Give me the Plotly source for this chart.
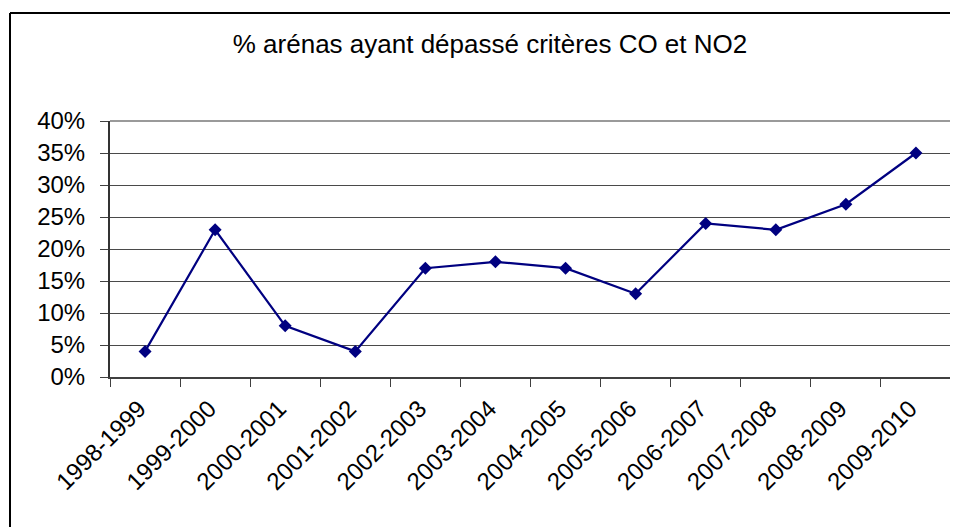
import plotly.graph_objects as go

categories = ["1998-1999", "1999-2000", "2000-2001", "2001-2002", "2002-2003", "2003-2004",
              "2004-2005", "2005-2006", "2006-2007", "2007-2008", "2008-2009", "2009-2010"]
values = [4, 23, 8, 4, 17, 18, 17, 13, 24, 23, 27, 35]
y_ticks = [0, 5, 10, 15, 20, 25, 30, 35, 40]
y_tick_labels = ["0%", "5%", "10%", "15%", "20%", "25%", "30%", "35%", "40%"]
title_text = "% arénas ayant dépassé critères CO et NO2"

# page has an 8px body margin: figure coords = screen coords - 8
OFF = 8
W, H = 958 - OFF, 527 - OFF
L = 110 - OFF
T = 121 - OFF
R = W - (951 - OFF)
B = H - (377 - OFF)
pw = W - L - R
ph = H - T - B

def px_x(x):
    return (x - OFF - L) / pw

def px_y(y):
    return (H - B - (y - OFF)) / ph

FONT = "Liberation Sans, Arial, sans-serif"

fig = go.Figure()
fig.add_trace(go.Scatter(
    x=categories, y=values, mode="lines+markers",
    line=dict(color="#000080", width=2.2),
    marker=dict(symbol="diamond", size=10, color="#000080"),
    showlegend=False, cliponaxis=False,
))

border = dict(color="black", width=2)
fig.update_layout(
    width=W, height=H,
    margin=dict(l=L, r=R, t=T, b=B, autoexpand=False),
    paper_bgcolor="white", plot_bgcolor="white",
    font=dict(family=FONT, size=24, color="black"),
    title=dict(text=title_text, x=(490 - OFF) / W, xanchor="center",
               y=1 - (44 - OFF) / H, yanchor="middle", yref="container",
               font=dict(family=FONT, size=26, color="black")),
    xaxis=dict(
        type="category", range=[-0.5, len(categories) - 0.5],
        tickson="boundaries", ticks="outside", ticklen=8,
        tickcolor="#404040", tickwidth=1, tickangle=-45,
        showline=True, linecolor="#404040", linewidth=2,
        showgrid=False, zeroline=False,
        tickfont=dict(family=FONT, size=24, color="black"),
        ticklabelstandoff=6, ticklabelshift=-6,
    ),
    yaxis=dict(
        range=[0, 40], tickmode="array", tickvals=y_ticks, ticktext=y_tick_labels,
        ticks="outside", ticklen=8, tickcolor="#404040", tickwidth=1,
        showline=True, linecolor="#333333", linewidth=2,
        showgrid=True, gridcolor="#4a4a4a", gridwidth=1, zeroline=False,
        tickfont=dict(family=FONT, size=24, color="black"),
        ticklabelstandoff=10,
    ),
    shapes=[
        dict(type="line", xref="paper", yref="paper", x0=0, x1=1, y0=1, y1=1,
             line=dict(color="#9a9a9a", width=2), layer="above"),
        dict(type="line", xref="paper", yref="paper", x0=1, x1=1, y0=0, y1=1,
             line=dict(color="#9a9a9a", width=2), layer="above"),
        # outer chart frame: only the left and top edges fall inside the picture
        dict(type="line", xref="paper", yref="paper",
             x0=px_x(10), x1=px_x(10), y0=px_y(13), y1=px_y(560),
             line=border, layer="above"),
        dict(type="line", xref="paper", yref="paper",
             x0=px_x(10), x1=px_x(1000), y0=px_y(13), y1=px_y(13),
             line=border, layer="above"),
    ],
)

fig.write_html("out.html")
